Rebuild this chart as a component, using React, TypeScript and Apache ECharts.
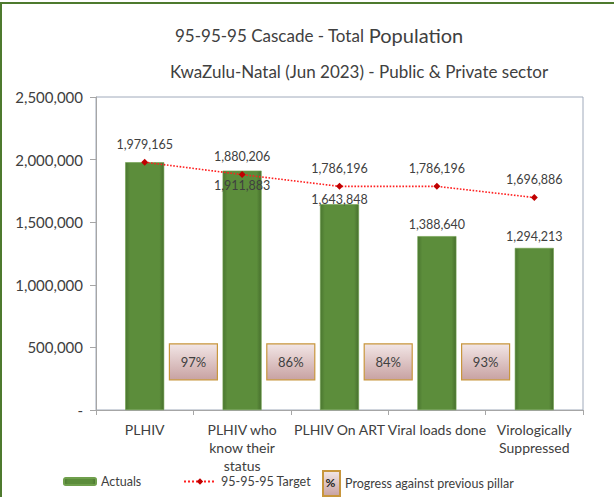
import React, { useEffect, useRef } from "react";
import * as echarts from "echarts";

const categories = [
  "PLHIV",
  "PLHIV who\nknow their\nstatus",
  "PLHIV On ART",
  "Viral loads done",
  "Virologically\nSuppressed",
];
const actuals = [1979165, 1911883, 1643848, 1388640, 1294213];
const target = [1979165, 1880206, 1786196, 1786196, 1696886];
const progressPct = [97, 86, 84, 93];
const yTicks = [0, 500000, 1000000, 1500000, 2000000, 2500000];

const FONT = "Lato, 'Liberation Sans', sans-serif";
const TEXT = "#404040";

export default function App() {
  const ref = useRef<HTMLDivElement>(null);

  useEffect(() => {
    if (!ref.current) return;
    const chart = echarts.init(ref.current, null, { renderer: "svg" });

    const barGrad = new echarts.graphic.LinearGradient(0, 0, 1, 0, [
      { offset: 0, color: "#4a7630" },
      { offset: 0.12, color: "#5c8d3b" },
      { offset: 0.88, color: "#5c8d3b" },
      { offset: 1, color: "#476f2d" },
    ]);
    const boxGrad = () =>
      new echarts.graphic.LinearGradient(0, 0, 0, 1, [
        { offset: 0, color: "#f2e6e6" },
        { offset: 1, color: "#c8a2a2" },
      ]);

    const barLabelOffsets: Record<number, any> = {
      0: { show: false },
      1: { offset: [0, 26] },
      2: { offset: [0, 7] },
    };

    const BOX_LEVEL = 385000;
    const legendText = { fontSize: 12.5, color: TEXT, fontFamily: FONT };

    chart.setOption({
      animation: false,
      backgroundColor: "#ffffff",
      textStyle: { fontFamily: FONT },
      title: [
        {
          text: "{a|95-95-95 Cascade - Total }{b|Population}",
          left: 170,
          top: 20,
          textStyle: {
            fontWeight: "normal",
            rich: {
              a: { fontSize: 17, color: TEXT, fontFamily: FONT, fontWeight: "normal" },
              b: { fontSize: 20, color: TEXT, fontFamily: FONT, fontWeight: "normal" },
            },
          },
        },
        {
          text: "KwaZulu-Natal (Jun 2023) - Public & Private sector",
          left: 165,
          top: 58,
          textStyle: { fontSize: 17, color: TEXT, fontWeight: "normal", fontFamily: FONT },
        },
      ],
      grid: {
        left: 96,
        right: 31,
        top: 97,
        bottom: 87,
        show: true,
        borderColor: "#a0aabb",
        borderWidth: 1,
        backgroundColor: "transparent",
      },
      legend: [
        {
          data: ["Actuals"],
          left: 63,
          top: 475,
          padding: 0,
          itemWidth: 32,
          itemHeight: 7,
          textStyle: legendText,
        },
        {
          data: ["95-95-95 Target"],
          left: 183,
          top: 475,
          padding: 0,
          itemWidth: 32,
          itemHeight: 8,
          textStyle: legendText,
        },
        {
          data: ["Progress against previous pillar"],
          left: 322,
          top: 470,
          padding: 0,
          itemWidth: 17,
          itemHeight: 25,
          icon: "rect",
          textStyle: legendText,
        },
      ],
      xAxis: {
        type: "category",
        data: categories,
        axisLine: { lineStyle: { color: "#a6a6a6" } },
        axisTick: { show: true, length: 5, lineStyle: { color: "#a6a6a6" } },
        axisLabel: {
          color: TEXT,
          fontSize: 14,
          lineHeight: 18,
          margin: 10,
          interval: 0,
          fontFamily: FONT,
        },
      },
      yAxis: {
        type: "value",
        min: 0,
        max: yTicks[yTicks.length - 1],
        interval: yTicks[1] - yTicks[0],
        splitLine: { show: false },
        axisLine: { show: true, lineStyle: { color: "#a6a6a6" } },
        axisTick: { show: true, length: 6, lineStyle: { color: "#a6a6a6" } },
        axisLabel: {
          color: TEXT,
          fontSize: 15,
          margin: 13,
          fontFamily: FONT,
          formatter: (v: number) => (v === 0 ? "-" : v.toLocaleString("en-US")),
        },
      },
      series: [
        {
          name: "Actuals",
          type: "bar",
          barWidth: 39,
          z: 2,
          itemStyle: { color: barGrad, borderColor: "#6f9f4c", borderWidth: 0.6 },
          label: {
            show: true,
            position: "top",
            distance: 5,
            color: TEXT,
            fontSize: 12.5,
            fontFamily: FONT,
            formatter: (p: any) => Number(p.value).toLocaleString("en-US"),
          },
          data: actuals.map((v, i) =>
            barLabelOffsets[i] ? { value: v, label: barLabelOffsets[i] } : v
          ),
        },
        {
          name: "95-95-95 Target",
          type: "line",
          z: 4,
          symbol: "diamond",
          symbolSize: 7,
          itemStyle: { color: "#c00000" },
          lineStyle: { color: "#ff2020", width: 1.6, type: "dotted" },
          label: {
            show: true,
            position: "top",
            distance: 8,
            color: TEXT,
            fontSize: 12.5,
            fontFamily: FONT,
            formatter: (p: any) => Number(p.value).toLocaleString("en-US"),
          },
          data: target,
        },
        {
          name: "Progress against previous pillar",
          type: "custom",
          z: 5,
          itemStyle: { color: boxGrad(), borderColor: "#c8963c", borderWidth: 1.2 },
          encode: { x: 0, y: 1 },
          data: progressPct.map((p, i) => [i, p]),
          renderItem: (params: any, api: any) => {
            const idx = api.value(0);
            const a = api.coord([idx, BOX_LEVEL]);
            const b = api.coord([idx + 1, BOX_LEVEL]);
            const cx = (a[0] + b[0]) / 2;
            const cy = a[1];
            return {
              type: "group",
              children: [
                {
                  type: "rect",
                  shape: { x: cx - 24, y: cy - 18, width: 48, height: 36 },
                  style: { fill: boxGrad(), stroke: "#c8963c", lineWidth: 1.2 },
                },
                {
                  type: "text",
                  style: {
                    text: api.value(1) + "%",
                    x: cx,
                    y: cy,
                    textAlign: "center",
                    textVerticalAlign: "middle",
                    fill: TEXT,
                    fontSize: 13,
                    fontFamily: FONT,
                  },
                },
              ],
            };
          },
        },
      ],
      graphic: [
        {
          type: "rect",
          shape: { x: 1, y: 3, width: 700, height: 700 },
          style: { fill: "none", stroke: "#4e7a2e", lineWidth: 2 },
          silent: true,
        },
        {
          type: "text",
          style: {
            text: "%",
            x: 330.5,
            y: 482.5,
            textAlign: "center",
            textVerticalAlign: "middle",
            fill: "#222",
            fontSize: 12,
            fontWeight: "bold",
            fontFamily: FONT,
          },
          z: 10,
        },
      ],
    });

    return () => chart.dispose();
  }, []);

  return (
    <div
      ref={ref}
      style={{ position: "absolute", left: 0, top: 0, width: 614, height: 497 }}
    />
  );
}
